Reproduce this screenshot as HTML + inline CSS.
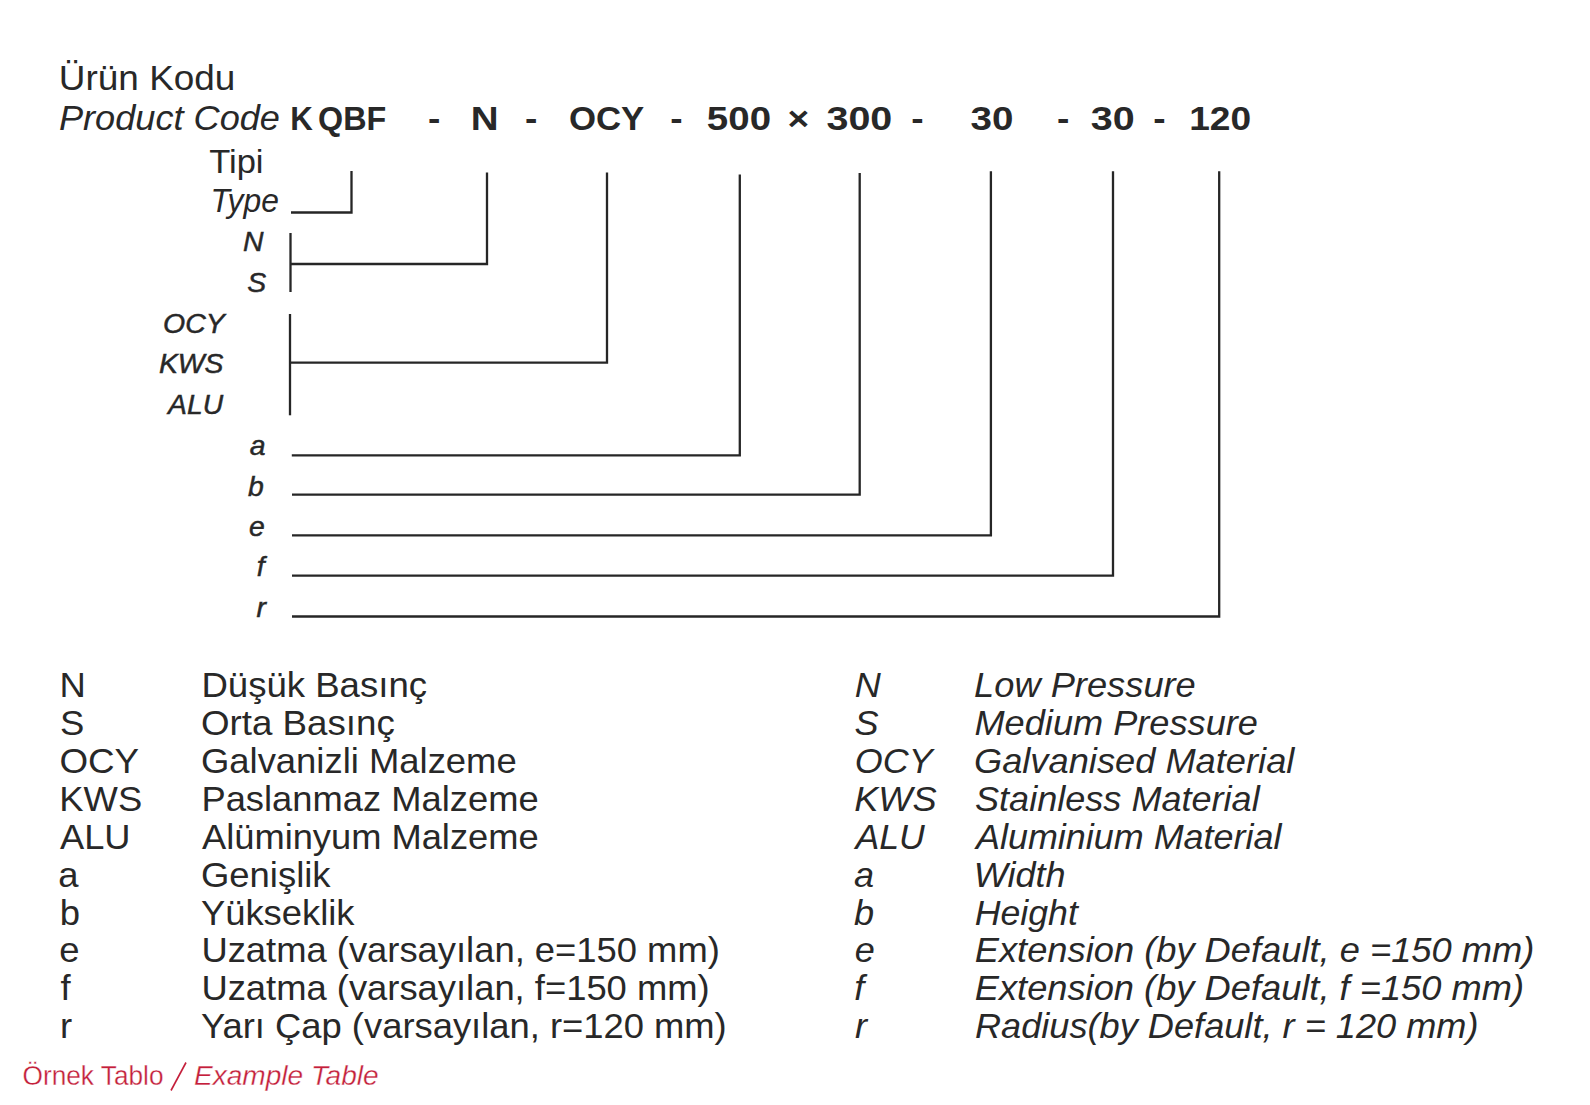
<!DOCTYPE html><html><head><meta charset="utf-8"><style>html,body{margin:0;padding:0;background:#fff;width:1590px;height:1105px;overflow:hidden}svg{display:block}text{font-family:"Liberation Sans",sans-serif}</style></head><body>
<svg width="1590" height="1105" viewBox="0 0 1590 1105">
<rect width="1590" height="1105" fill="#fff"/>
<g fill="none" stroke="#262626" stroke-width="2.3" stroke-linecap="butt" stroke-linejoin="miter">
<path d="M291,212.5 H351.5 V171"/>
<path d="M290.5,233 V292"/>
<path d="M290.5,264 H487 V172.5"/>
<path d="M290,314 V415.3"/>
<path d="M290,362.6 H607 V172.5"/>
<path d="M291.8,455.4 H739.8 V174.5"/>
<path d="M292,494.6 H859.7 V173"/>
<path d="M292,535.3 H990.9 V171.3"/>
<path d="M292,575.7 H1113 V171.3"/>
<path d="M292,616.5 H1219.2 V171.3"/>
</g>
<text font-size="35" fill="#282828" transform="translate(58.83 89.6) scale(1.0556 1)" x="0" y="0">Ürün Kodu</text>
<text font-size="34.5" font-style="italic" fill="#282828" transform="translate(58.95 130) scale(1.0478 1)" x="0" y="0">Product Code</text>
<text font-size="33.5" font-weight="bold" fill="#282828" transform="translate(290.14 129.8) scale(0.9324 1)" x="0" y="0">K</text>
<text font-size="33.5" font-weight="bold" fill="#282828" transform="translate(318.04 129.8) scale(0.9639 1)" x="0" y="0">QBF</text>
<text font-size="33.5" font-weight="bold" fill="#282828" transform="translate(427.89 129.8) scale(1.1091 1)" x="0" y="0">-</text>
<text font-size="33.5" font-weight="bold" fill="#282828" transform="translate(470.7 129.8) scale(1.15 1)" x="0" y="0">N</text>
<text font-size="33.5" font-weight="bold" fill="#282828" transform="translate(524.89 129.8) scale(1.1091 1)" x="0" y="0">-</text>
<text font-size="33.5" font-weight="bold" fill="#282828" transform="translate(568.94 129.8) scale(1.0372 1)" x="0" y="0">OCY</text>
<text font-size="33.5" font-weight="bold" fill="#282828" transform="translate(670.33 129.8) scale(1.1091 1)" x="0" y="0">-</text>
<text font-size="33.5" font-weight="bold" fill="#282828" transform="translate(706.85 129.8) scale(1.1484 1)" x="0" y="0">500</text>
<text font-size="33.5" font-weight="bold" fill="#282828" transform="translate(787.38 129.8) scale(1.1091 1)" x="0" y="0">×</text>
<text font-size="33.5" font-weight="bold" fill="#282828" transform="translate(826.5 129.8) scale(1.1778 1)" x="0" y="0">300</text>
<text font-size="33.5" font-weight="bold" fill="#282828" transform="translate(911.28 129.8) scale(1.1091 1)" x="0" y="0">-</text>
<text font-size="33.5" font-weight="bold" fill="#282828" transform="translate(970.44 129.8) scale(1.1515 1)" x="0" y="0">30</text>
<text font-size="33.5" font-weight="bold" fill="#282828" transform="translate(1056.89 129.8) scale(1.1091 1)" x="0" y="0">-</text>
<text font-size="33.5" font-weight="bold" fill="#282828" transform="translate(1090.83 129.8) scale(1.1773 1)" x="0" y="0">30</text>
<text font-size="33.5" font-weight="bold" fill="#282828" transform="translate(1153.25 129.8) scale(1.1091 1)" x="0" y="0">-</text>
<text font-size="33.5" font-weight="bold" fill="#282828" transform="translate(1189.13 129.8) scale(1.1078 1)" x="0" y="0">120</text>
<text font-size="33" fill="#282828" transform="translate(209.14 173.1) scale(1.0472 1)" x="0" y="0">Tipi</text>
<text font-size="33" font-style="italic" fill="#282828" transform="translate(210.51 211.7) scale(0.9642 1)" x="0" y="0">Type</text>
<text font-size="26.8" font-style="italic" fill="#282828" stroke="#282828" stroke-width="0.45" transform="translate(242.94 251.0) scale(1.0591 1)" x="0" y="0">N</text>
<text font-size="26.8" font-style="italic" fill="#282828" stroke="#282828" stroke-width="0.45" transform="translate(247.36 291.9) scale(1.0591 1)" x="0" y="0">S</text>
<text font-size="26.8" font-style="italic" fill="#282828" stroke="#282828" stroke-width="0.45" transform="translate(163.03 332.9) scale(1.0622 1)" x="0" y="0">OCY</text>
<text font-size="26.8" font-style="italic" fill="#282828" stroke="#282828" stroke-width="0.45" transform="translate(158.94 373.0) scale(1.0584 1)" x="0" y="0">KWS</text>
<text font-size="26.8" font-style="italic" fill="#282828" stroke="#282828" stroke-width="0.45" transform="translate(168.06 414) scale(1.0566 1)" x="0" y="0">ALU</text>
<text font-size="26.8" font-style="italic" fill="#282828" stroke="#282828" stroke-width="0.45" transform="translate(249.65 454.7) scale(1.0591 1)" x="0" y="0">a</text>
<text font-size="26.8" font-style="italic" fill="#282828" stroke="#282828" stroke-width="0.45" transform="translate(248.07 495.6) scale(1.0591 1)" x="0" y="0">b</text>
<text font-size="26.8" font-style="italic" fill="#282828" stroke="#282828" stroke-width="0.45" transform="translate(249.05 535.9) scale(1.0591 1)" x="0" y="0">e</text>
<text font-size="26.8" font-style="italic" fill="#282828" stroke="#282828" stroke-width="0.45" transform="translate(256.72 576) scale(1.0591 1)" x="0" y="0">f</text>
<text font-size="26.8" font-style="italic" fill="#282828" stroke="#282828" stroke-width="0.45" transform="translate(256.55 617) scale(1.0591 1)" x="0" y="0">r</text>
<text font-size="35.4" fill="#282828" transform="translate(59.54 697.3) scale(1.0296 1)" x="0" y="0">N</text>
<text font-size="35.4" fill="#282828" transform="translate(201.4 697.3) scale(1.0336 1)" x="0" y="0">Düşük Basınç</text>
<text font-size="35.4" fill="#282828" transform="translate(60.06 735.17) scale(1.0296 1)" x="0" y="0">S</text>
<text font-size="35.4" fill="#282828" transform="translate(200.92 735.17) scale(1.038 1)" x="0" y="0">Orta Basınç</text>
<text font-size="35.4" fill="#282828" transform="translate(59.41 773.04) scale(1.0394 1)" x="0" y="0">OCY</text>
<text font-size="35.4" fill="#282828" transform="translate(200.95 773.04) scale(1.0293 1)" x="0" y="0">Galvanizli Malzeme</text>
<text font-size="35.4" fill="#282828" transform="translate(59.31 810.91) scale(1.0277 1)" x="0" y="0">KWS</text>
<text font-size="35.4" fill="#282828" transform="translate(201.42 810.91) scale(1.0269 1)" x="0" y="0">Paslanmaz Malzeme</text>
<text font-size="35.4" fill="#282828" transform="translate(60.0 848.78) scale(1.0243 1)" x="0" y="0">ALU</text>
<text font-size="35.4" fill="#282828" transform="translate(202.0 848.78) scale(1.0251 1)" x="0" y="0">Alüminyum Malzeme</text>
<text font-size="35.4" fill="#282828" transform="translate(58.2 886.65) scale(1.0296 1)" x="0" y="0">a</text>
<text font-size="35.4" fill="#282828" transform="translate(200.94 886.65) scale(1.0299 1)" x="0" y="0">Genişlik</text>
<text font-size="35.4" fill="#282828" transform="translate(59.67 924.52) scale(1.0296 1)" x="0" y="0">b</text>
<text font-size="35.4" fill="#282828" transform="translate(200.97 924.52) scale(1.027 1)" x="0" y="0">Yükseklik</text>
<text font-size="35.4" fill="#282828" transform="translate(59.29 962.39) scale(1.0296 1)" x="0" y="0">e</text>
<text font-size="35.4" fill="#282828" transform="translate(201.41 962.39) scale(1.0279 1)" x="0" y="0">Uzatma (varsayılan, e=150 mm)</text>
<text font-size="35.4" fill="#282828" transform="translate(60.4 1000.26) scale(1.0296 1)" x="0" y="0">f</text>
<text font-size="35.4" fill="#282828" transform="translate(201.42 1000.26) scale(1.0276 1)" x="0" y="0">Uzatma (varsayılan, f=150 mm)</text>
<text font-size="35.4" fill="#282828" transform="translate(59.99 1038.13) scale(1.0296 1)" x="0" y="0">r</text>
<text font-size="35.4" fill="#282828" transform="translate(200.97 1038.13) scale(1.0277 1)" x="0" y="0">Yarı Çap (varsayılan, r=120 mm)</text>
<text font-size="35.4" font-style="italic" fill="#282828" transform="translate(854.68 697.3) scale(1.0192 1)" x="0" y="0">N</text>
<text font-size="35.4" font-style="italic" fill="#282828" transform="translate(974.08 697.3) scale(1.0248 1)" x="0" y="0">Low Pressure</text>
<text font-size="35.4" font-style="italic" fill="#282828" transform="translate(854.5 735.17) scale(1.0192 1)" x="0" y="0">S</text>
<text font-size="35.4" font-style="italic" fill="#282828" transform="translate(974.48 735.17) scale(1.0223 1)" x="0" y="0">Medium Pressure</text>
<text font-size="35.4" font-style="italic" fill="#282828" transform="translate(854.87 773.04) scale(1.0148 1)" x="0" y="0">OCY</text>
<text font-size="35.4" font-style="italic" fill="#282828" transform="translate(973.95 773.04) scale(1.0243 1)" x="0" y="0">Galvanised Material</text>
<text font-size="35.4" font-style="italic" fill="#282828" transform="translate(854.18 810.91) scale(1.0229 1)" x="0" y="0">KWS</text>
<text font-size="35.4" font-style="italic" fill="#282828" transform="translate(974.98 810.91) scale(1.0194 1)" x="0" y="0">Stainless Material</text>
<text font-size="35.4" font-style="italic" fill="#282828" transform="translate(855.51 848.78) scale(1.0071 1)" x="0" y="0">ALU</text>
<text font-size="35.4" font-style="italic" fill="#282828" transform="translate(976.02 848.78) scale(1.015 1)" x="0" y="0">Aluminium Material</text>
<text font-size="35.4" font-style="italic" fill="#282828" transform="translate(853.97 886.65) scale(1.0192 1)" x="0" y="0">a</text>
<text font-size="35.4" font-style="italic" fill="#282828" transform="translate(973.84 886.65) scale(1.0186 1)" x="0" y="0">Width</text>
<text font-size="35.4" font-style="italic" fill="#282828" transform="translate(853.97 924.52) scale(1.0192 1)" x="0" y="0">b</text>
<text font-size="35.4" font-style="italic" fill="#282828" transform="translate(974.78 924.52) scale(1.0078 1)" x="0" y="0">Height</text>
<text font-size="35.4" font-style="italic" fill="#282828" transform="translate(854.63 962.39) scale(1.0192 1)" x="0" y="0">e</text>
<text font-size="35.4" font-style="italic" fill="#282828" transform="translate(974.77 962.39) scale(1.0254 1)" x="0" y="0">Extension (by Default, e =150 mm)</text>
<text font-size="35.4" font-style="italic" fill="#282828" transform="translate(854.26 1000.26) scale(1.0192 1)" x="0" y="0">f</text>
<text font-size="35.4" font-style="italic" fill="#282828" transform="translate(974.77 1000.26) scale(1.0246 1)" x="0" y="0">Extension (by Default, f =150 mm)</text>
<text font-size="35.4" font-style="italic" fill="#282828" transform="translate(855.08 1038.13) scale(1.0192 1)" x="0" y="0">r</text>
<text font-size="35.4" font-style="italic" fill="#282828" transform="translate(974.98 1038.13) scale(1.022 1)" x="0" y="0">Radius(by Default, r = 120 mm)</text>
<text font-size="27" fill="#c41f3b" stroke="#fff" stroke-width="0.3" transform="translate(22.54 1084.8) scale(0.972 1)" x="0" y="0">Örnek Tablo</text>
<text font-size="27" font-style="italic" fill="#c41f3b" stroke="#fff" stroke-width="0.3" transform="translate(193.96 1084.8) scale(1.04 1)" x="0" y="0">Example Table</text>
<path d="M171,1090.5 L186,1062.5" stroke="#c41f3b" stroke-width="1.6" fill="none"/></svg></body></html>
